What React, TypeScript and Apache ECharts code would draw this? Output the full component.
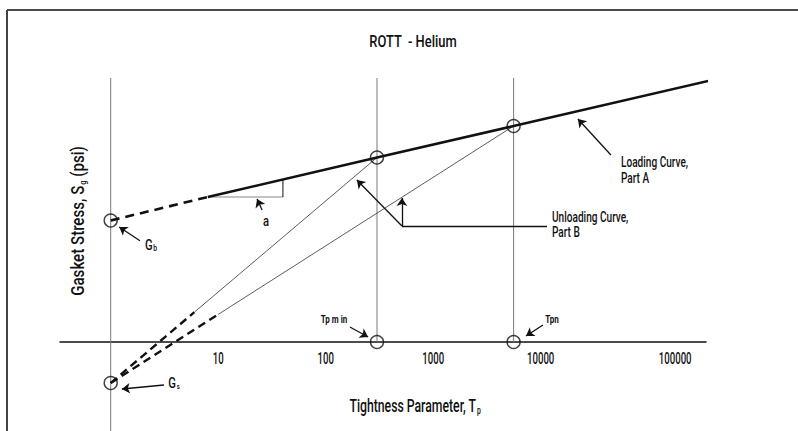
import { useEffect, useRef } from 'react';
import * as echarts from 'echarts';

const TITLE = 'ROTT  - Helium';
const X_NAME = 'Tightness Parameter, T';
const X_NAME_SUB = 'p';
const Y_NAME = 'Gasket Stress, S';
const Y_NAME_SUB = 'g';
const Y_NAME_TAIL = ' (psi)';

const TICK_LABELS = [10, 100, 1000, 10000, 100000];

const X_MIN = 0.3375;
const X_MAX = 345000;
const Y_MIN = -890;
const Y_MAX = 2640;

const TP_MIN = 300;
const TP_N = 5600;
const GB_S = 1215;
const GS_S = -410;

const LOADING_TP = [8, 300, 5600, 376000];
const LOADING_S = [1450, 1845, 2160, 2615];
const EXTENSION_TP = [1, 8];
const EXTENSION_S = [1215, 1450];
const UNLOAD_A_TP = [1, 6, 300];
const UNLOAD_A_S = [-410, 298, 1845];
const UNLOAD_B_TP = [1, 10, 5600];
const UNLOAD_B_S = [-410, 276, 2160];
const SLOPE_TP = [8, 40, 40];
const SLOPE_S = [1450, 1450, 1624];

const GUIDE_TP = [1, TP_MIN, TP_N];
const GUIDE_BOTTOM = [Y_MIN, 0, 0];

const CIRCLE_TP = [1, 1, TP_MIN, TP_N, TP_MIN, TP_N];
const CIRCLE_S = [GB_S, GS_S, 1845, 2160, 0, 0];

// [fromTp, fromS, toTp, toS]
const ARROWS = [
  [1.87, 1013, 1.2, 1150],
  [3.13, -430, 1.27, -470],
  [25.6, 1320, 23, 1430],
  [168, 150, 248, 50],
  [10500, 170, 7300, 60],
  [45000, 1870, 22200, 2230],
  [512, 1160, 512, 1440],
  [512, 1160, 195, 1620],
];
const LEADER = [11450, 1160, 512, 1160];

const FONT = 'Roboto, "Noto Sans", sans-serif';
const INK = '#111';

const zip = (a: number[], b: number[]) => a.map((v, i) => [v, b[i]]);

export default function App() {
  const ref = useRef<HTMLDivElement>(null);
  useEffect(() => {
    if (!ref.current) return;
    const chart = echarts.init(ref.current, undefined, { renderer: 'svg' });

    const lineSeries = (data: number[][], width: number, color: string, type: any = 'solid', z = 3) => ({
      type: 'line',
      data,
      symbol: 'none',
      clip: false,
      silent: true,
      z,
      lineStyle: { color, width, type },
    });

    const guides = GUIDE_TP.map((tp, i) =>
      lineSeries([[tp, Y_MAX], [tp, GUIDE_BOTTOM[i]]], 1, '#7a7a7a', 'solid', 2)
    );

    const text = (id: string, x: number, y: number, t: string, size: number, sx: number, extra: any = {}) => ({
      type: 'text',
      id,
      x,
      y,
      z: 20,
      scaleX: sx,
      style: {
        text: t,
        fontSize: size,
        fontFamily: FONT,
        fontWeight: 500,
        fill: INK,
        align: 'center',
        verticalAlign: 'middle',
        ...extra,
      },
    });

    const subRich = (big: number, small: number) => ({
      n: { fontSize: big, fontFamily: FONT, fontWeight: 500, fill: INK },
      s: { fontSize: small, fontFamily: FONT, fontWeight: 500, fill: INK, verticalAlign: 'bottom', padding: [big * 0.45, 0, 0, 1] },
    });

    const baseGraphics: any[] = [
      { type: 'line', id: 'frameTop', z: 20, shape: { x1: 7, y1: 10, x2: 798, y2: 10 }, style: { stroke: INK, lineWidth: 1.6 } },
      { type: 'line', id: 'frameLeft', z: 20, shape: { x1: 7, y1: 10, x2: 7, y2: 431 }, style: { stroke: '#444', lineWidth: 2 } },
      text('title', 413, 41, TITLE, 17, 0.76),
      text('xname', 415, 406, `{n|${X_NAME}}{s|${X_NAME_SUB}}`, 18, 0.68, { rich: subRich(18, 10) }),
      {
        ...text('yname', 78, 221, `{n|${Y_NAME}}{s|${Y_NAME_SUB}}{n|${Y_NAME_TAIL}}`, 18, 0.84, { rich: subRich(18, 9) }),
        rotation: Math.PI / 2,
      },
      text('gb', 151, 245, '{n|G}{s|b}', 15, 0.75, { rich: subRich(15, 9) }),
      text('gs', 174, 383, '{n|G}{s|s}', 15, 0.75, { rich: subRich(15, 8) }),
      text('a', 266, 221, 'a', 15, 0.75),
      text('tpmin', 334, 320, 'Tp m in', 10, 0.8, { fontWeight: 'bold' }),
      text('tpn', 552, 320, 'Tpn', 10, 0.8, { fontWeight: 'bold' }),
      text('loadA1', 621, 162, 'Loading Curve,', 14, 0.72, { align: 'left' }),
      text('loadA2', 621, 178, 'Part A', 14, 0.72, { align: 'left' }),
      text('unloadB1', 552, 217, 'Unloading Curve,', 14, 0.72, { align: 'left' }),
      text('unloadB2', 552, 232, 'Part B', 14, 0.72, { align: 'left' }),
    ];

    chart.setOption({
      animation: false,
      backgroundColor: '#fff',
      grid: { left: 60, right: 92, top: 78, bottom: 0, containLabel: false, outerBoundsMode: 'none' },
      xAxis: {
        type: 'log',
        logBase: 10,
        min: X_MIN,
        max: X_MAX,
        axisLine: { show: true, onZero: true, lineStyle: { color: INK, width: 1.5 } },
        axisTick: { show: false },
        splitLine: { show: false },
        axisLabel: { show: false },
      },
      yAxis: {
        type: 'value',
        min: Y_MIN,
        max: Y_MAX,
        show: false,
        splitLine: { show: false },
      },
      series: [
        ...guides,
        lineSeries(zip(LOADING_TP, LOADING_S), 2.6, INK, 'solid', 5),
        lineSeries(zip(EXTENSION_TP, EXTENSION_S), 2.6, INK, [9, 6], 5),
        lineSeries(zip(UNLOAD_A_TP.slice(0, 2), UNLOAD_A_S.slice(0, 2)), 2.4, INK, [8, 5], 4),
        lineSeries(zip(UNLOAD_A_TP.slice(1), UNLOAD_A_S.slice(1)), 0.8, '#333', 'solid', 4),
        lineSeries(zip(UNLOAD_B_TP.slice(0, 2), UNLOAD_B_S.slice(0, 2)), 2.4, INK, [8, 5], 4),
        lineSeries(zip(UNLOAD_B_TP.slice(1), UNLOAD_B_S.slice(1)), 0.8, '#333', 'solid', 4),
        lineSeries(zip(SLOPE_TP.slice(0, 2), SLOPE_S.slice(0, 2)), 1, '#888', 'solid', 4),
        lineSeries(zip(SLOPE_TP.slice(1), SLOPE_S.slice(1)), 1, INK, 'solid', 4),
        {
          type: 'line',
          data: [],
          silent: true,
          z: 6,
          markLine: {
            silent: true,
            animation: false,
            symbol: ['none', 'arrow'],
            symbolSize: 8,
            label: { show: false },
            lineStyle: { color: INK, width: 1.3, type: 'solid' },
            emphasis: { disabled: true },
            data: [
              ...ARROWS.map((a) => [{ coord: [a[0], a[1]] }, { coord: [a[2], a[3]] }]),
              [
                { coord: [LEADER[0], LEADER[1]], symbol: 'none' },
                { coord: [LEADER[2], LEADER[3]], symbol: 'none' },
              ],
            ],
          },
        },
        {
          type: 'scatter',
          data: zip(CIRCLE_TP, CIRCLE_S),
          symbol: 'circle',
          symbolSize: 13,
          clip: false,
          silent: true,
          z: 7,
          itemStyle: { color: 'rgba(0,0,0,0)', borderColor: INK, borderWidth: 1.4 },
        },
      ],
      graphic: baseGraphics,
    });

    // Tick labels placed through the x axis scale (condensed lettering needs scaleX).
    const yZero = chart.convertToPixel({ yAxisIndex: 0 }, 0) as number;
    const tickGraphics = TICK_LABELS.map((v, i) => {
      const px = chart.convertToPixel({ xAxisIndex: 0 }, v) as number;
      const nudge = i === TICK_LABELS.length - 1 ? 27 : 0;
      return text('tick' + i, px + nudge, yZero + 17, String(v), 16, 0.6);
    });
    chart.setOption({ graphic: [...baseGraphics, ...tickGraphics] });

    return () => chart.dispose();
  }, []);
  return <div ref={ref} style={{ width: 798, height: 431, position: 'absolute', left: 0, top: 0 }} />;
}
